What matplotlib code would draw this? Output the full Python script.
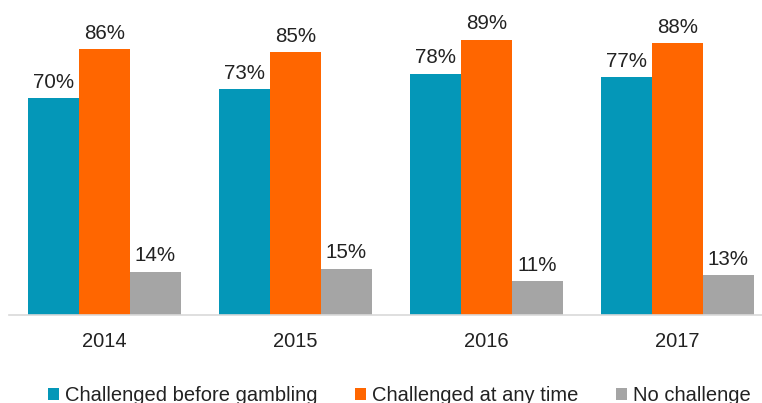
import matplotlib.pyplot as plt
import numpy as np

plt.rcParams['font.family'] = ['Liberation Sans', 'DejaVu Sans']

years = ['2014', '2015', '2016', '2017']
before_gambling = [70, 73, 78, 77]
any_time = [86, 85, 89, 88]
no_challenge = [14, 15, 11, 13]

series = [
    ('Challenged before gambling', before_gambling, '#0497B8'),
    ('Challenged at any time', any_time, '#FF6600'),
    ('No challenge', no_challenge, '#A5A5A5'),
]

fig = plt.figure(figsize=(7.62, 4.03), dpi=100)
# axes runs a little past the right edge of the figure
ax = fig.add_axes([9 / 762, 88 / 403, 764 / 762, 309.3 / 403])

x = np.arange(len(years))
width = 0.8 / 3
for i, (name, vals, color) in enumerate(series):
    bars = ax.bar(x + (i - 1) * width, vals, width, color=color, label=name)
    for b, v in zip(bars, vals):
        ax.annotate(f'{v}%', (b.get_x() + b.get_width() / 2, v),
                    xytext=(0, 4.5), textcoords='offset points',
                    ha='center', va='bottom', fontsize=14.8, color='#222222')

ax.set_xlim(-0.5, len(years) - 0.5)
ax.set_ylim(0, 100)
ax.set_xticks(x)
ax.set_xticklabels(years, fontsize=14.5, color='#222222')
ax.tick_params(axis='x', length=0, pad=12)
ax.set_yticks([])
for side in ['top', 'right', 'left']:
    ax.spines[side].set_visible(False)
ax.spines['bottom'].set_color('#D9D9D9')
ax.spines['bottom'].set_linewidth(1.2)

# legend sits at the very bottom, descenders run off the edge
fig.legend(loc='center', bbox_to_anchor=(0.524, 0.019), ncol=3, frameon=False,
           fontsize=14.5, handlelength=0.55, handleheight=0.55,
           handletextpad=0.3, columnspacing=1.85, labelcolor='#222222')

fig.savefig('out.png', dpi=100)
